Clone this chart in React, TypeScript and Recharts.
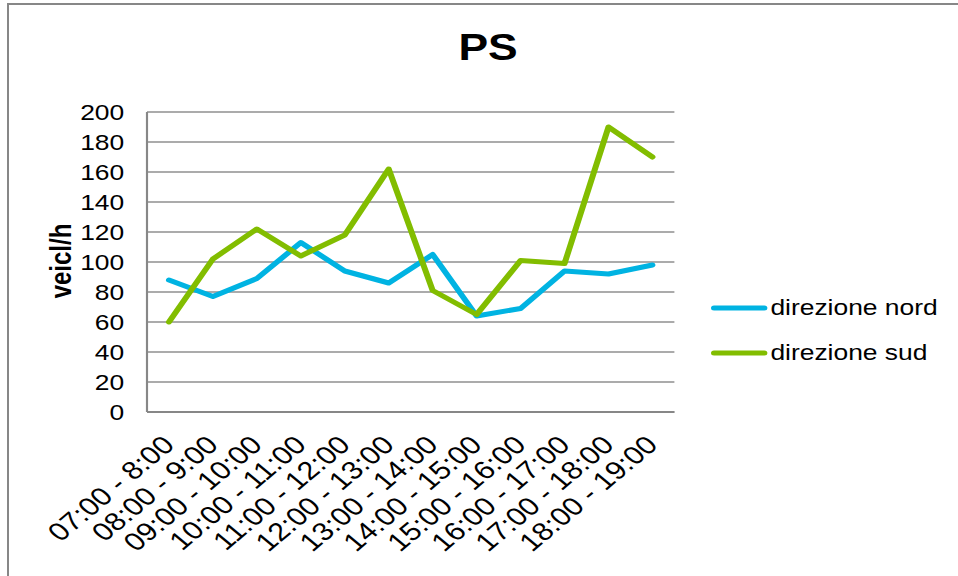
import React from 'react';
import { LineChart, Line, XAxis, YAxis, CartesianGrid, Legend } from 'recharts';

const categories = [
  '07:00 - 8:00', '08:00 - 9:00', '09:00 - 10:00', '10:00 - 11:00',
  '11:00 - 12:00', '12:00 - 13:00', '13:00 - 14:00', '14:00 - 15:00',
  '15:00 - 16:00', '16:00 - 17:00', '17:00 - 18:00', '18:00 - 19:00',
];
const nord = [88, 77, 89, 113, 94, 86, 105, 64, 69, 94, 92, 98];
const sud = [60, 102, 122, 104, 118, 162, 81, 65, 101, 99, 190, 170];
const yTicks = [0, 20, 40, 60, 80, 100, 120, 140, 160, 180, 200];
const seriesNames = ['direzione nord', 'direzione sud'];
const seriesColors = ['#00B3E2', '#82BD00'];
const title = 'PS';
const yLabel = 'veicl/h';

const data = categories.map((c, i) => ({ cat: c, nord: nord[i], sud: sud[i] }));

const FONT = '"Liberation Sans", Arial, sans-serif';
const SX = 1.2;
const W = 798;
const H = 576;

const XTick = (props: any) => {
  const { x, y, payload } = props;
  const ax = x + 5.8;
  const ay = y + 34.5;
  return (
    <text
      x={ax}
      y={ay}
      textAnchor="end"
      fontSize={25.5}
      fontFamily={FONT}
      fill="#000"
      transform={`rotate(-45, ${ax}, ${ay})`}
    >
      {payload.value}
    </text>
  );
};

const LegendContent = () => (
  <div style={{ fontFamily: FONT, fontSize: 22, color: '#000' }}>
    {seriesNames.map((n, i) => (
      <div key={n} style={{ display: 'flex', alignItems: 'center', height: 45, whiteSpace: 'nowrap' }}>
        <svg width={48} height={10} style={{ display: 'block' }}>
          <line x1={3} y1={5} x2={45} y2={5} stroke={seriesColors[i]} strokeWidth={5} strokeLinecap="round" />
        </svg>
        <span style={{ marginLeft: 2 }}>{n}</span>
      </div>
    ))}
  </div>
);

export default function App() {
  return (
    <div style={{ position: 'absolute', left: 0, top: 0, width: 958, height: 576, overflow: 'hidden', background: '#fff' }}>
      <div
        style={{
          position: 'absolute', left: 7, top: 3, width: 1000, height: 700,
          border: '2px solid #878787', boxSizing: 'border-box',
        }}
      />
      <div
        style={{
          position: 'absolute', left: 0, top: 0, width: W, height: H,
          transform: `scaleX(${SX})`, transformOrigin: '0 0',
        }}
      >
        <LineChart
          width={W}
          height={H}
          data={data}
          margin={{ top: 112, right: 236, bottom: 0, left: 0 }}
        >
          <CartesianGrid horizontal vertical={false} stroke="#8f8f8f" strokeWidth={1.3} />
          <XAxis
            dataKey="cat"
            height={164}
            interval={0}
            tickLine={false}
            tickSize={0}
            tickMargin={0}
            padding={{ left: 18.3, right: 18.3 }}
            axisLine={{ stroke: '#878787', strokeWidth: 1.8 }}
            tick={<XTick />}
          />
          <YAxis
            width={122.5}
            domain={[0, 200]}
            ticks={yTicks}
            interval={0}
            tickLine={false}
            tickSize={0}
            tickMargin={19}
            axisLine={{ stroke: '#878787', strokeWidth: 1.8 }}
            tick={{ fontSize: 22, fontFamily: FONT, fill: '#000' }}
          />
          <Legend
            layout="vertical"
            align="center"
            verticalAlign="middle"
            wrapperStyle={{ left: 592, top: 285.5, width: 200 }}
            content={<LegendContent />}
          />
          <Line
            type="linear"
            dataKey="nord"
            name={seriesNames[0]}
            stroke={seriesColors[0]}
            strokeWidth={5}
            strokeLinecap="round"
            strokeLinejoin="round"
            dot={false}
            isAnimationActive={false}
          />
          <Line
            type="linear"
            dataKey="sud"
            name={seriesNames[1]}
            stroke={seriesColors[1]}
            strokeWidth={5}
            strokeLinecap="round"
            strokeLinejoin="round"
            dot={false}
            isAnimationActive={false}
          />
        </LineChart>
        <svg
          width={W}
          height={H}
          style={{ position: 'absolute', left: 0, top: 0, pointerEvents: 'none' }}
        >
          <text x={406.7} y={60} textAnchor="middle" fontSize={37} fontWeight="bold" fontFamily={FONT} fill="#000">
            {title}
          </text>
          <text
            x={51}
            y={261}
            textAnchor="middle"
            dominantBaseline="central"
            fontSize={24}
            fontWeight="bold"
            fontFamily={FONT}
            fill="#000"
            transform="rotate(-90, 51, 261)"
          >
            {yLabel}
          </text>
        </svg>
      </div>
    </div>
  );
}
